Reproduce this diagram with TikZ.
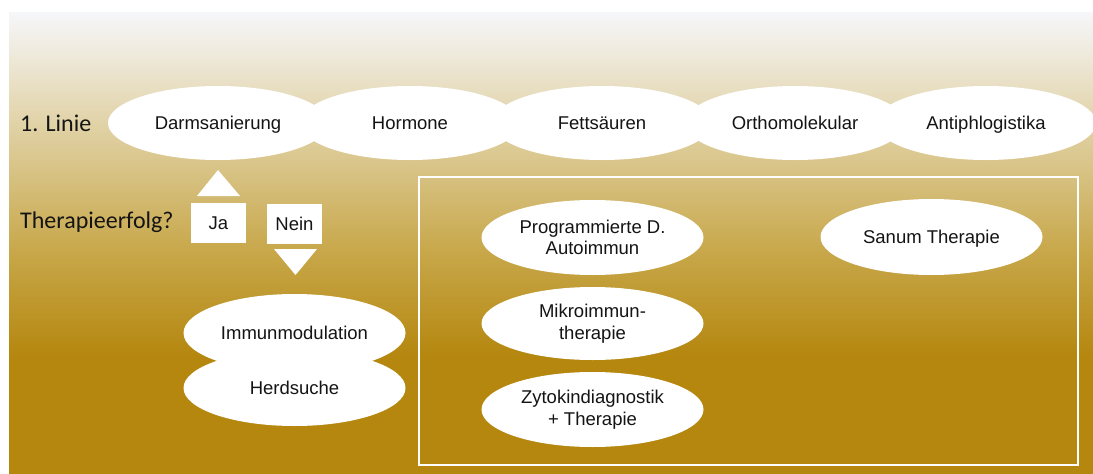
\documentclass[tikz,border=0pt]{standalone}
\usepackage{fontspec}
\setmainfont{Liberation Sans}
\newfontfamily\calfont{Carlito}
\usetikzlibrary{shapes.geometric}
\definecolor{goldB}{RGB}{181,135,15}
\definecolor{midB}{RGB}{200,168,75}
\definecolor{midA}{RGB}{222,205,155}
\definecolor{topW}{RGB}{246,247,250}
\definecolor{txt}{RGB}{20,20,20}
\pgfdeclareverticalshading{bgshade}{100bp}{color(0bp)=(goldB); color(25bp)=(goldB); color(37.88bp)=(goldB); color(49.24bp)=(midB); color(61.15bp)=(midA); color(75bp)=(topW); color(100bp)=(topW)}
\begin{document}
\begin{tikzpicture}[x=1pt,y=-1pt,
  ell/.style={ellipse, fill=white, inner sep=0pt, minimum width=222pt, minimum height=75pt, align=center, text=txt, font=\fontsize{18.5}{21.5}\selectfont},
  oneline/.style={text height=13.5pt, text depth=0pt},
  topell/.style={ell, oneline, minimum width=220pt, minimum height=74pt},
  answer/.style={rectangle, fill=white, inner sep=0pt, minimum width=55pt, minimum height=40pt, text=txt, font=\fontsize{18.5}{21.5}\selectfont},
  sidelabel/.style={anchor=west, inner sep=0pt, text=txt, font=\calfont\fontsize{24}{28}\selectfont},
  marker/.style={fill=white}
]
\useasboundingbox (0,0) rectangle (1093,474);
\fill[white] (0,0) rectangle (1093,474);
\shade[shading=bgshade] (9,12) rectangle (1093,474);

% first line
\node[sidelabel] (linie) at (20,123) {1. Linie};
\node[topell] (darm) at (218,123) {Darmsanierung};
\node[topell] (horm) at (410,123) {Hormone};
\node[topell] (fett) at (602,123) {Fettsäuren};
\node[topell] (ortho) at (795,123) {Orthomolekular};
\node[topell] (anti) at (986,123) {Antiphlogistika};

% decision
\node[sidelabel] (erfolg) at (20,222) {Therapieerfolg?};
\node[answer] (ja) at (218.5,223) {Ja};
\node[answer] (nein) at (294.5,224) {Nein};
\fill[marker] (218,170) -- (197,196) -- (240,196) -- cycle;
\fill[marker] (274,249) -- (317,249) -- (295.5,275) -- cycle;

% left stack
\node[ell, oneline, minimum height=78pt] (immun) at (294.5,333) {Immunmodulation};
\node[ell, oneline, minimum height=76pt] (herd) at (294.5,388) {Herdsuche};

% frame
\node[draw=white, line width=1.2pt, inner sep=0pt, minimum width=659pt, minimum height=288pt] (frame) at (748.5,321) {};
\node[ell] (prog) at (592.5,237.5) {Programmierte D.\\Autoimmun};
\node[ell, minimum height=73pt] (mikro) at (592.5,323.5) {Mikroimmun-\\therapie};
\node[ell] (zyto) at (592.5,409.5) {Zytokindiagnostik\\+ Therapie};
\node[ell, oneline, minimum height=76pt] (sanum) at (931.5,237) {Sanum Therapie};
\end{tikzpicture}
\end{document}
